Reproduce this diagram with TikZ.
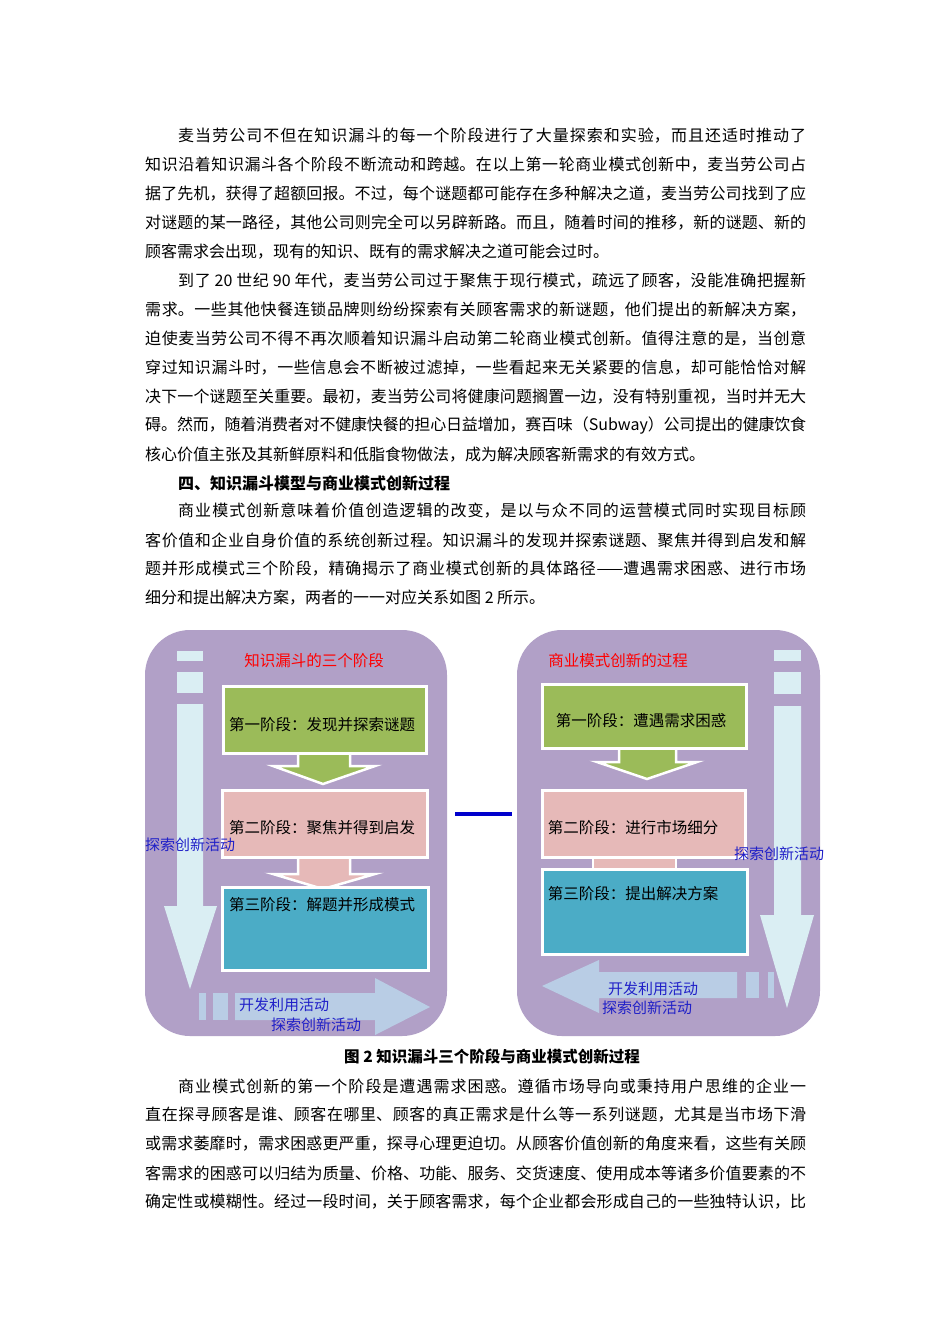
\documentclass[tikz,border=0pt]{standalone}
\usepackage{fontspec}
\setmainfont{Noto Sans CJK SC}
\XeTeXlinebreaklocale "zh"
\XeTeXlinebreakskip=0pt plus 3pt minus 0.6pt
\definecolor{panel}{HTML}{B1A0C7}
\definecolor{gbox}{HTML}{9BBB59}
\definecolor{pbox}{HTML}{E6B9B8}
\definecolor{cbox}{HTML}{4BACC6}
\definecolor{varr}{HTML}{DAEEF3}
\definecolor{harr}{HTML}{B9CDE5}
\definecolor{lblue}{HTML}{2020C8}
\tikzset{
  ln/.style={anchor=west,inner sep=0pt,font=\fontsize{16}{17}\selectfont},
  stagebox/.style={draw=white,line width=2.5pt,drop shadow={shadow xshift=2pt,shadow yshift=-2pt,fill=gray!60}},
  boxtxt/.style={font=\fontsize{15.5}{16}\selectfont,inner sep=0pt},
  lbl/.style={text=lblue,font=\fontsize{15}{16}\selectfont,inner sep=0pt},
  ttl/.style={text=red,font=\fontsize{15.5}{16}\selectfont,inner sep=0pt},
}
\usetikzlibrary{shadows}
\hbadness=10000 \hfuzz=20pt
\newcommand{\FL}[1]{\parbox{661pt}{\noindent\parfillskip=0pt #1}}
\newcommand{\IL}[1]{\parbox{628pt}{\noindent\parfillskip=0pt #1}}
\begin{document}
\begin{tikzpicture}[x=1pt,y=-1pt]
\useasboundingbox[fill=white] (0,0) rectangle (950,1344);
% paragraph 1
\node[ln] (l1) at (178,136) {\IL{麦当劳公司不但在知识漏斗的每一个阶段进行了大量探索和实验，而且还适时推动了}};
\node[ln] (l2) at (145,165) {\FL{知识沿着知识漏斗各个阶段不断流动和跨越。在以上第一轮商业模式创新中，麦当劳公司占}};
\node[ln] (l3) at (145,194) {\FL{据了先机，获得了超额回报。不过，每个谜题都可能存在多种解决之道，麦当劳公司找到了应}};
\node[ln] (l4) at (145,223) {\FL{对谜题的某一路径，其他公司则完全可以另辟新路。而且，随着时间的推移，新的谜题、新的}};
\node[ln] (l5) at (145,252) {顾客需求会出现，现有的知识、既有的需求解决之道可能会过时。};
% paragraph 2
\node[ln] (l6) at (178,281) {\IL{到了 20 世纪 90 年代，麦当劳公司过于聚焦于现行模式，疏远了顾客，没能准确把握新}};
\node[ln] (l7) at (145,310) {\FL{需求。一些其他快餐连锁品牌则纷纷探索有关顾客需求的新谜题，他们提出的新解决方案，}};
\node[ln] (l8) at (145,339) {\FL{迫使麦当劳公司不得不再次顺着知识漏斗启动第二轮商业模式创新。值得注意的是，当创意}};
\node[ln] (l9) at (145,368) {\FL{穿过知识漏斗时，一些信息会不断被过滤掉，一些看起来无关紧要的信息，却可能恰恰对解}};
\node[ln] (l10) at (145,397) {\FL{决下一个谜题至关重要。最初，麦当劳公司将健康问题搁置一边，没有特别重视，当时并无大}};
\node[ln] (l11) at (145,426) {\FL{碍。然而，随着消费者对不健康快餐的担心日益增加，赛百味（Subway）公司提出的健康饮食}};
\node[ln] (l12) at (145,455) {核心价值主张及其新鲜原料和低脂食物做法，成为解决顾客新需求的有效方式。};
\node[ln,font=\fontsize{16}{17}\selectfont\bfseries] (l13) at (178,483) {四、知识漏斗模型与商业模式创新过程};
% paragraph 3
\node[ln] (l14) at (178,511) {\IL{商业模式创新意味着价值创造逻辑的改变，是以与众不同的运营模式同时实现目标顾}};
\node[ln] (l15) at (145,540) {\FL{客价值和企业自身价值的系统创新过程。知识漏斗的发现并探索谜题、聚焦并得到启发和解}};
\node[ln] (l16) at (145,569) {\FL{题并形成模式三个阶段，精确揭示了商业模式创新的具体路径——遭遇需求困惑、进行市场}};
\node[ln] (l17) at (145,598) {细分和提出解决方案，两者的一一对应关系如图 2 所示。};

% ===== diagram =====
\fill[panel,rounded corners=45pt] (145,630) rectangle (447,1036);
\fill[panel,rounded corners=45pt] (517,630) rectangle (820,1036);
\draw[blue!80!black,line width=3.5pt] (455,814) -- (512,814);

% left vertical arrow
\fill[varr] (177,651) rectangle (203,661);
\fill[varr] (177,672) rectangle (203,693);
\fill[varr] (177,704) -- (203,704) -- (203,906) -- (217,906) -- (190,989) -- (164,906) -- (177,906) -- cycle;
% right vertical arrow
\fill[varr] (774,650) rectangle (801,661);
\fill[varr] (774,672) rectangle (801,694);
\fill[varr] (774,706) -- (801,706) -- (801,915) -- (814,915) -- (787,1008) -- (760,915) -- (774,915) -- cycle;
% left horizontal arrow
\fill[harr] (199,993) rectangle (206,1020);
\fill[harr] (213,993) rectangle (228,1020);
\fill[harr] (235,993) -- (375,993) -- (375,978) -- (430,1007) -- (375,1035) -- (375,1020) -- (235,1020) -- cycle;
% right horizontal arrow
\fill[harr] (768,972) rectangle (774,998);
\fill[harr] (746,972) rectangle (759,998);
\fill[harr] (737,972) -- (599,972) -- (599,960) -- (542,986) -- (599,1013) -- (599,998) -- (737,998) -- cycle;

% left stages
\draw[white,line width=2.5pt,fill=pbox] (298,855) -- (350,855) -- (350,874) -- (375,874) -- (323,889) -- (273,874) -- (298,874) -- cycle;
\draw[white,line width=2.5pt,fill=gbox] (298,750) -- (350,750) -- (350,766) -- (375,766) -- (323,784) -- (273,766) -- (298,766) -- cycle;
\node[stagebox,fill=gbox,minimum width=203pt,minimum height=67pt,inner sep=0pt,anchor=north west] (a1) at (222,685) {};
\node[stagebox,fill=pbox,minimum width=205pt,minimum height=67pt,inner sep=0pt,anchor=north west] (a2) at (221,789) {};
\node[stagebox,fill=cbox,minimum width=206pt,minimum height=83pt,inner sep=0pt,anchor=north west] (a3) at (221,886) {};
\node[boxtxt] at (322,725) {第一阶段：发现并探索谜题};
\node[boxtxt] at (322,828) {第二阶段：聚焦并得到启发};
\node[boxtxt] at (322,905) {第三阶段：解题并形成模式};

% right stages
\draw[white,line width=2.5pt,fill=pbox] (593,855) -- (676,855) -- (676,880) -- (593,880) -- cycle;
\draw[white,line width=2.5pt,fill=gbox] (619,748) -- (676,748) -- (676,762) -- (697,762) -- (647,779) -- (597,762) -- (619,762) -- cycle;
\node[stagebox,fill=gbox,minimum width=204pt,minimum height=64pt,inner sep=0pt,anchor=north west] (b1) at (541,683) {};
\node[stagebox,fill=pbox,minimum width=203pt,minimum height=67pt,inner sep=0pt,anchor=north west] (b2) at (541,789) {};
\node[stagebox,fill=cbox,minimum width=205pt,minimum height=85pt,inner sep=0pt,anchor=north west] (b3) at (541,868) {};
\node[boxtxt] at (641,721) {第一阶段：遭遇需求困惑};
\node[boxtxt] at (633,828) {第二阶段：进行市场细分};
\node[boxtxt] at (633,894) {第三阶段：提出解决方案};

% titles and labels
\node[ttl] (t1) at (314,661) {知识漏斗的三个阶段};
\node[ttl] (t2) at (618,661) {商业模式创新的过程};
\node[lbl] (m1) at (190,845) {探索创新活动};
\node[lbl] (m2) at (779,854) {探索创新活动};
\node[lbl] (m3) at (284,1005) {开发利用活动};
\node[lbl] (m4) at (316,1025) {探索创新活动};
\node[lbl] (m5) at (653,989) {开发利用活动};
\node[lbl] (m6) at (647,1008) {探索创新活动};

\node[inner sep=0pt,font=\fontsize{15.5}{16}\selectfont\bfseries] (cap) at (492,1057) {图 2 知识漏斗三个阶段与商业模式创新过程};

% paragraph 4
\node[ln] (p1) at (178,1086) {\IL{商业模式创新的第一个阶段是遭遇需求困惑。遵循市场导向或秉持用户思维的企业一}};
\node[ln] (p2) at (145,1115) {\FL{直在探寻顾客是谁、顾客在哪里、顾客的真正需求是什么等一系列谜题，尤其是当市场下滑}};
\node[ln] (p3) at (145,1144) {\FL{或需求萎靡时，需求困惑更严重，探寻心理更迫切。从顾客价值创新的角度来看，这些有关顾}};
\node[ln] (p4) at (145,1173) {\FL{客需求的困惑可以归结为质量、价格、功能、服务、交货速度、使用成本等诸多价值要素的不}};
\node[ln] (p5) at (145,1202) {\FL{确定性或模糊性。经过一段时间，关于顾客需求，每个企业都会形成自己的一些独特认识，比}};
\end{tikzpicture}
\end{document}
